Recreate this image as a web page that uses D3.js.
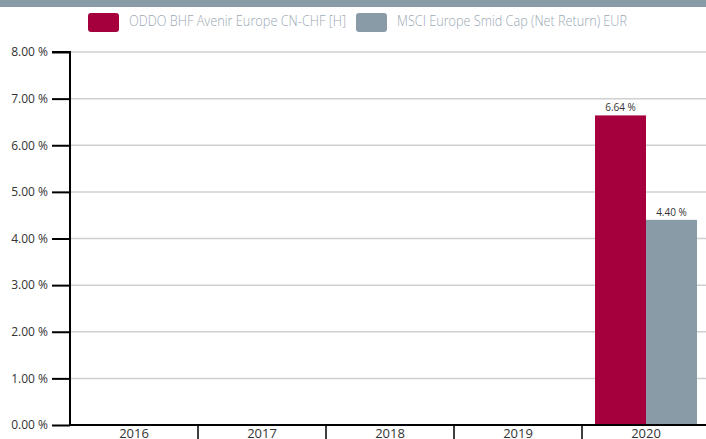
<!DOCTYPE html>
<html>
<head>
<meta charset="utf-8">
<script src="https://cdn.jsdelivr.net/npm/d3@7"></script>
<style>
  body { margin: 0; background: #fff; }
  svg { display: block; }
</style>
</head>
<body>
<svg id="chart" width="706" height="439"></svg>
<script>
const years = ["2016", "2017", "2018", "2019", "2020"];
const seriesNames = ["ODDO BHF Avenir Europe CN-CHF [H]", "MSCI Europe Smid Cap (Net Return) EUR"];
const fundValues = [null, null, null, null, 6.64];
const benchValues = [null, null, null, null, 4.40];
const yTicks = [0, 1, 2, 3, 4, 5, 6, 7, 8];
const colors = ["#a5003d", "#8a9ba8"];

const svg = d3.select("#chart");
const margin = { top: 52, left: 70, bottom: 14 };
const height = 439 - margin.top - margin.bottom;

const x = d3.scaleBand().domain(years).range([margin.left, 710]).padding(0);
const xInner = d3.scaleBand().domain([0, 1]).range([0, x.bandwidth()]).paddingInner(0).paddingOuter(0.255);
const y = d3.scaleLinear().domain([0, 8]).range([margin.top + height, margin.top]);

// header strip
svg.append("rect")
    .attr("x", 0).attr("y", 0)
    .attr("width", 706).attr("height", 7)
    .attr("fill", "#8a9ba8");

// gridlines
svg.append("g")
    .selectAll("line")
    .data(yTicks.filter(d => d > 0))
    .join("line")
    .attr("x1", margin.left).attr("x2", 706)
    .attr("y1", d => y(d)).attr("y2", d => y(d))
    .attr("stroke", "#d0d0d0")
    .attr("stroke-width", 1.5);

// bars
const rows = years.map((yr, i) => ({ year: yr, values: [fundValues[i], benchValues[i]] }));
const groups = svg.append("g")
    .selectAll("g")
    .data(rows)
    .join("g")
    .attr("transform", d => `translate(${x(d.year)},0)`);

groups.selectAll("rect")
    .data(d => d.values.map((v, k) => ({ k, v })).filter(d => d.v != null))
    .join("rect")
    .attr("x", d => xInner(d.k))
    .attr("width", xInner.bandwidth())
    .attr("y", d => y(d.v))
    .attr("height", d => y(0) - y(d.v))
    .attr("fill", d => colors[d.k]);

groups.selectAll("text")
    .data(d => d.values.map((v, k) => ({ k, v })).filter(d => d.v != null))
    .join("text")
    .attr("x", d => xInner(d.k) + xInner.bandwidth() / 2)
    .attr("y", d => y(d.v) - 4)
    .attr("text-anchor", "middle")
    .style("font-family", "'Open Sans', sans-serif")
    .style("font-size", "10px")
    .attr("fill", "#333")
    .text(d => d.v.toFixed(2) + " %");

// y axis
const yAxis = svg.append("g")
    .attr("transform", `translate(${margin.left},0)`)
    .call(d3.axisLeft(y).tickValues(yTicks).tickSize(18).tickPadding(4)
        .tickFormat(d => d3.format(".2f")(d) + " %"));
yAxis.select(".domain").attr("stroke", "#000").attr("stroke-width", 2).attr("d", `M-18,${y(8)}H0V${y(0)}`);
yAxis.selectAll(".tick line").attr("stroke", "#000").attr("stroke-width", 2);
yAxis.selectAll(".tick text")
    .style("font-family", "'Open Sans', sans-serif")
    .style("font-size", "12px")
    .attr("fill", "#333");

// x axis
const xAxis = svg.append("g")
    .attr("transform", `translate(0,${y(0)})`)
    .call(d3.axisBottom(x).tickSize(0));
xAxis.select(".domain").attr("stroke", "#000").attr("stroke-width", 2).attr("d", `M${margin.left},0H706`);
xAxis.selectAll(".tick text")
    .attr("y", 13)
    .attr("dy", 0)
    .style("font-family", "'Open Sans', sans-serif")
    .style("font-size", "13px")
    .attr("fill", "#333");
xAxis.selectAll(".sep")
    .data(years.slice(1))
    .join("line")
    .attr("class", "sep")
    .attr("x1", d => x(d)).attr("x2", d => x(d))
    .attr("y1", 0).attr("y2", 20)
    .attr("stroke", "#000").attr("stroke-width", 1.5);

// legend
const legendX = [88, 356];
const legendTextW = [217, 230];
const legend = svg.append("g")
    .selectAll("g")
    .data(seriesNames)
    .join("g")
    .attr("transform", (d, i) => `translate(${legendX[i]},13)`);
legend.append("rect")
    .attr("width", 31).attr("height", 19).attr("rx", 3)
    .attr("fill", (d, i) => colors[i]);
legend.append("text")
    .attr("x", 41).attr("y", 13)
    .attr("textLength", (d, i) => legendTextW[i])
    .attr("lengthAdjust", "spacingAndGlyphs")
    .style("font-family", "'Open Sans', sans-serif")
    .style("font-size", "14px")
    .style("font-weight", 300)
    .attr("fill", "#9aa9b4")
    .text(d => d);
</script>
</body>
</html>
